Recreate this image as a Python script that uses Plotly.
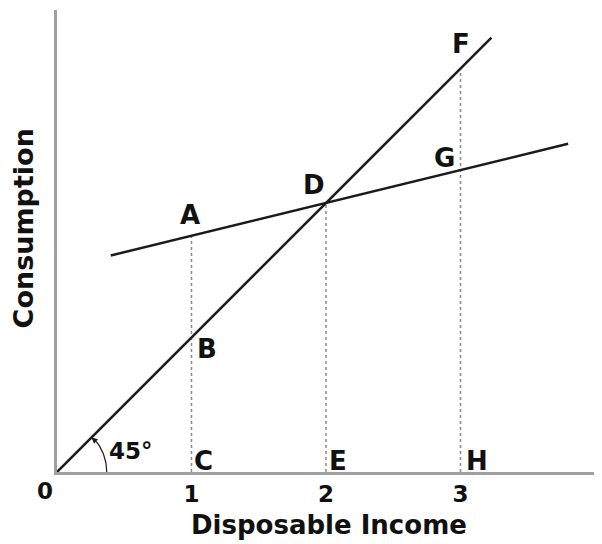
import numpy as np
import plotly.graph_objects as go

# ---- data ----
income_ticks = [1, 2, 3]
income_tick_labels = ["1", "2", "3"]
origin_label = "0"

line45_x = [0, 3.23]
line45_y = [0, 3.23]

cons_x = [0.4, 1, 2, 3, 3.8]
cons_y = [1.61, 1.77, 2.0, 2.25, 2.44]

drop_x = [1, 2, 3]
drop_top = [1.77, 2.0, 3.0]

point_labels = ["A", "B", "C", "D", "E", "F", "G", "H"]
point_x = [1, 1, 1, 2, 2, 3, 3, 3]
point_y = [1.77, 1.0, 0, 2.0, 0, 3.0, 2.25, 0]

angle_label = "45°"
angle_deg = 45
arc_radius = 0.37

x_title = "Disposable Income"
y_title = "Consumption"

# ---- styles ----
FONT = "DejaVu Sans"
label_xshift = [-2, 15, 12, -12, 12, 0, -16, 16]
label_yshift = [19, -11, 11, 18, 11, 25, 11, 11]

fig = go.Figure()

# dotted drop lines
for xv, top in zip(drop_x, drop_top):
    fig.add_trace(go.Scatter(x=[xv, xv], y=[0, top], mode="lines",
                             line=dict(color="#8a8a8a", width=1.5, dash="dot"),
                             hoverinfo="skip", showlegend=False))

# 45 degree line
fig.add_trace(go.Scatter(x=line45_x, y=line45_y, mode="lines",
                         line=dict(color="#1a1a1a", width=2.5),
                         showlegend=False))
# consumption line
fig.add_trace(go.Scatter(x=[cons_x[0], cons_x[-1]], y=[cons_y[0], cons_y[-1]], mode="lines",
                         line=dict(color="#1a1a1a", width=2.5),
                         showlegend=False))

# angle arc
theta = np.linspace(0, np.radians(angle_deg) - 0.12, 40)
fig.add_trace(go.Scatter(x=arc_radius * np.cos(theta), y=arc_radius * np.sin(theta),
                         mode="lines", line=dict(color="#1a1a1a", width=1.2),
                         hoverinfo="skip", showlegend=False))

annotations = []
# arrow head of arc
ang_end = np.radians(angle_deg)
ang_start = ang_end - 0.14
annotations.append(dict(x=arc_radius * np.cos(ang_end) * 0.98, y=arc_radius * np.sin(ang_end) * 0.98,
                        ax=arc_radius * np.cos(ang_start), ay=arc_radius * np.sin(ang_start),
                        xref="x", yref="y", axref="x", ayref="y",
                        showarrow=True, arrowhead=2, arrowsize=1.0, arrowwidth=1.2,
                        arrowcolor="#1a1a1a", text=""))

for lab, xv, yv, dx, dy in zip(point_labels, point_x, point_y, label_xshift, label_yshift):
    annotations.append(dict(x=xv, y=yv, xref="x", yref="y", text=lab, showarrow=False,
                            xshift=dx, yshift=dy,
                            font=dict(family=FONT, size=26, color="#111111", weight="bold")))

annotations.append(dict(x=0, y=0, xref="x", yref="y", text=angle_label, showarrow=False,
                        xshift=74, yshift=21,
                        font=dict(family=FONT, size=23, color="#111111", weight="bold")))

annotations.append(dict(x=0, y=0, xref="x", yref="y", text=origin_label, showarrow=False,
                        xshift=-12, yshift=-19,
                        font=dict(family=FONT, size=23, color="#111111", weight="bold")))

annotations.append(dict(x=0.5, y=-0.115, xref="paper", yref="paper", text=x_title,
                        showarrow=False, yanchor="middle",
                        font=dict(family=FONT, size=26, color="#111111", weight="bold")))
annotations.append(dict(x=-0.062, y=0.528, xref="paper", yref="paper", text=y_title,
                        showarrow=False, textangle=-90, xanchor="center", yanchor="middle",
                        font=dict(family=FONT, size=27, color="#111111", weight="bold")))

# page body has an 8px default margin, so the figure is sized to fit the 602x544 window
fig.update_layout(
    width=594, height=536,
    margin=dict(l=49, r=2, t=2, b=72),
    paper_bgcolor="white", plot_bgcolor="white",
    showlegend=False,
    annotations=annotations,
    xaxis=dict(range=[0, 4.037], showgrid=False, zeroline=False,
               showline=True, linecolor="#a0a0a0", linewidth=2.5,
               tickvals=income_ticks, ticktext=income_tick_labels, ticks="",
               tickfont=dict(family=FONT, size=23, color="#111111", weight="bold")),
    yaxis=dict(range=[0, 3.435], showgrid=False, zeroline=False,
               showline=True, linecolor="#a0a0a0", linewidth=2.5,
               showticklabels=False, ticks=""),
)

fig.write_html("out.html")
